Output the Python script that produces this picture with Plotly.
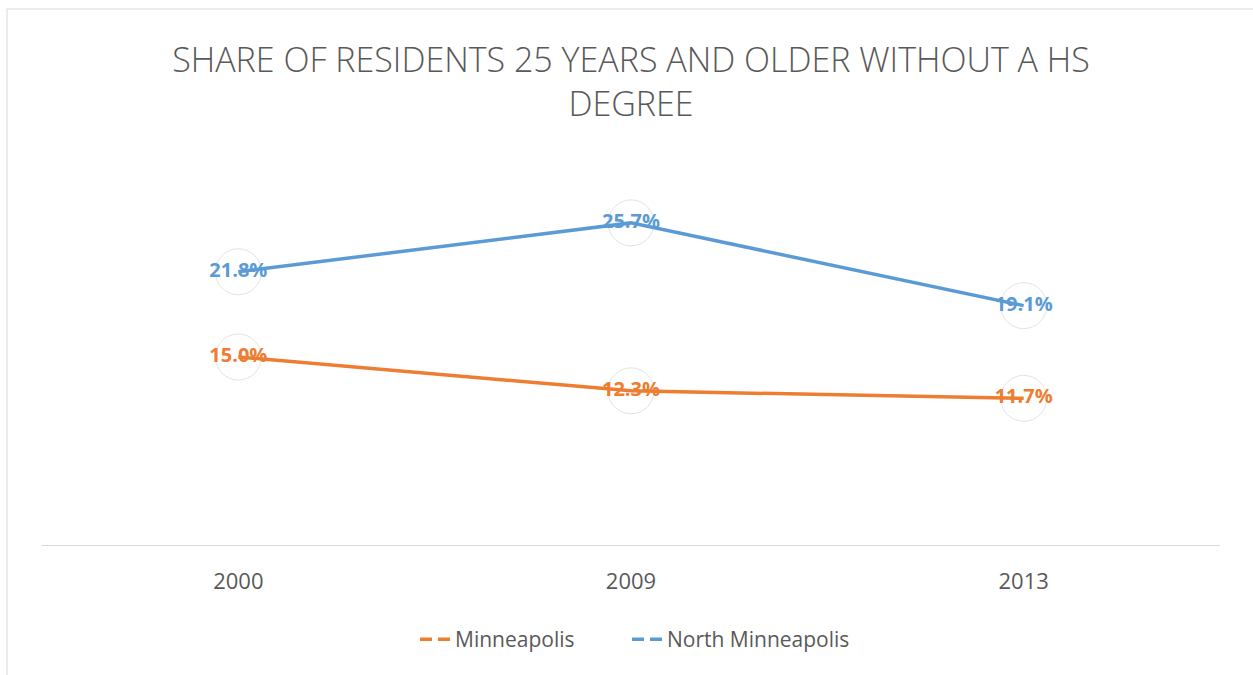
import plotly.graph_objects as go

years = ["2000", "2009", "2013"]
minneapolis = [15.0, 12.3, 11.7]
north_minneapolis = [21.8, 25.7, 19.1]
series_names = ["Minneapolis", "North Minneapolis"]
title_text = "SHARE OF RESIDENTS 25 YEARS AND OLDER WITHOUT A HS<br>DEGREE"

ORANGE = "#ED7D31"
BLUE = "#5B9BD5"
GRAY = "#595959"

W, H = 1253, 675
L, R, T, B = 42, 33, 169, 130
PW = W - L - R
PH = H - T - B

fig = go.Figure()

for vals, name, col in [(north_minneapolis, series_names[1], BLUE),
                        (minneapolis, series_names[0], ORANGE)]:
    # faint callout circles around labels
    fig.add_trace(go.Scatter(
        x=years, y=vals, mode="markers", showlegend=False, hoverinfo="skip",
        marker=dict(symbol="circle-open", size=46, color="#E3E3E3",
                    line=dict(width=1, color="#E3E3E3")),
        cliponaxis=False))
    fig.add_trace(go.Scatter(
        x=years, y=vals, mode="lines+text", name=name, showlegend=False,
        line=dict(color=col, width=3.5),
        text=[f"{v:.1f}%" for v in vals], textposition="middle center",
        textfont=dict(family="Open Sans", size=20, color=col, weight="bold"),
        cliponaxis=False))

# legend entries with dashed key
for name, col, lg in [(series_names[0], ORANGE, "legend"),
                      (series_names[1], BLUE, "legend2")]:
    fig.add_trace(go.Scatter(
        x=[None], y=[None], mode="lines", name=name, legend=lg,
        line=dict(color=col, width=3.5, dash="12px,6px")))

legend_style = dict(orientation="h", xanchor="left", y=-74 / PH, yanchor="top",
                    font=dict(family="Open Sans", size=21, color=GRAY),
                    itemwidth=30, bgcolor="rgba(0,0,0,0)")

fig.update_layout(
    width=W, height=H,
    margin=dict(l=L, r=R, t=T, b=B),
    paper_bgcolor="white", plot_bgcolor="white",
    title=dict(text=title_text, x=0.5, xref="paper", xanchor="center",
               y=1 - 72 / H, yanchor="top",
               font=dict(family="Open Sans", size=34, color=GRAY, weight=300)),
    xaxis=dict(type="category", showgrid=False, zeroline=False,
               showline=True, linecolor="#D9D9D9", linewidth=1,
               ticks="", tickfont=dict(family="Open Sans", size=22, color=GRAY),
               ticklabelstandoff=17, range=[-0.5, 2.5]),
    yaxis=dict(range=[0, 30], visible=False, showgrid=False, zeroline=False),
    legend=dict(x=(415 - L) / PW, **legend_style),
    legend2=dict(x=(627 - L) / PW, **legend_style),
    showlegend=True,
)

# outer frame (top and left edges visible)
fig.add_shape(type="rect", xref="paper", yref="paper",
              x0=(7 - L) / PW, x1=(W + 20 - L) / PW,
              y0=-(B + 20) / PH, y1=1 + (T - 9) / PH,
              line=dict(color="#D9D9D9", width=1), fillcolor="rgba(0,0,0,0)",
              layer="below")

fig.write_html("out.html", config={"displayModeBar": False},
               post_script="document.body.style.margin='0';document.body.style.padding='0';")
